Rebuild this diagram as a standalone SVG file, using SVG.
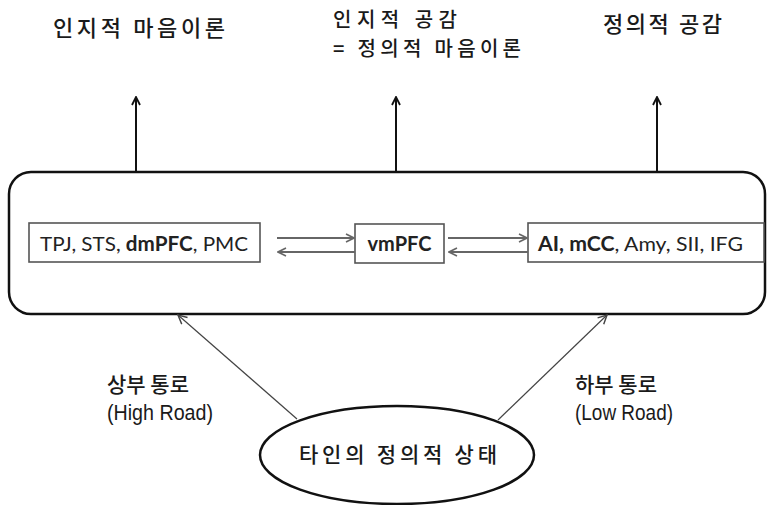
<svg xmlns="http://www.w3.org/2000/svg" width="769" height="505" viewBox="0 0 769 505">
<defs>
<style>
.kr{font-family:"Noto Sans CJK KR","Noto Sans",sans-serif;fill:#1a1a1a;font-weight:500;}
.top{font-size:22px;}
.mid{font-size:20px;}
.lab{font-size:21px;}
.lat{font-family:"Liberation Sans Narrow","Liberation Sans","Noto Sans CJK KR",sans-serif;font-size:22px;fill:#1a1a1a;}
.reg{font-family:Lato,"Open Sans",sans-serif;font-size:20px;fill:#222;}
.b{font-weight:bold;}
.inner{fill:#fff;stroke:#555;stroke-width:1.6;}
.up{stroke:#111;stroke-width:2;fill:none;}
.pair{stroke:#666;stroke-width:2;fill:none;}
.road{stroke:#444;stroke-width:1.2;fill:none;}
</style>
<marker id="ahUp" viewBox="0 0 10 10" refX="9" refY="5" markerWidth="10" markerHeight="10" markerUnits="userSpaceOnUse" orient="auto">
<path d="M1,1 L9,5 L1,9" fill="none" stroke="#111" stroke-width="1.8"/>
</marker>
<marker id="ahPair" viewBox="0 0 10 10" refX="9" refY="5" markerWidth="10" markerHeight="10" markerUnits="userSpaceOnUse" orient="auto">
<path d="M1,1 L9,5 L1,9" fill="none" stroke="#666" stroke-width="1.6"/>
</marker>
<marker id="ahRoad" viewBox="0 0 10 10" refX="9" refY="5" markerWidth="11" markerHeight="11" markerUnits="userSpaceOnUse" orient="auto">
<path d="M1,1 L9,5 L1,9" fill="none" stroke="#444" stroke-width="1.3"/>
</marker>
</defs>
<rect width="769" height="505" fill="#fff"/>

<g id="label-cognitive-tom">
<text class="kr top" x="53" y="36" textLength="172" lengthAdjust="spacing">인지적  마음이론</text>
</g>
<g id="label-cognitive-empathy">
<text class="kr mid" x="333" y="27" textLength="124" lengthAdjust="spacing">인지적 공감</text>
<text class="kr mid" x="333" y="56" textLength="188" lengthAdjust="spacing">= 정의적 마음이론</text>
</g>
<g id="label-affective-empathy">
<text class="kr top" x="603" y="32" textLength="119" lengthAdjust="spacing">정의적 공감</text>
</g>

<g id="system">
<rect x="9" y="172" width="756" height="142" rx="22" ry="22" fill="none" stroke="#111" stroke-width="2.5"/>
</g>

<g id="node-tpj">
<rect class="inner" x="29" y="223" width="231" height="39"/>
<text class="reg" x="40" y="251" textLength="208" lengthAdjust="spacingAndGlyphs">TPJ, STS, <tspan class="b">dmPFC</tspan>, PMC</text>
</g>
<g id="node-vmpfc">
<rect class="inner" x="355" y="224" width="89" height="39"/>
<text class="reg b" x="399.5" y="251" text-anchor="middle">vmPFC</text>
</g>
<g id="node-ai">
<rect class="inner" x="528" y="223" width="236" height="39"/>
<text class="reg" x="538" y="251" textLength="205" lengthAdjust="spacingAndGlyphs"><tspan class="b">AI, mCC</tspan>, Amy, SII, IFG</text>
</g>

<g id="node-other">
<ellipse cx="397" cy="455" rx="137" ry="49" fill="#fff" stroke="#111" stroke-width="2.5"/>
<text class="kr" x="299" y="462" font-size="21" textLength="198" lengthAdjust="spacing">타인의 정의적 상태</text>
</g>

<g id="road-labels">
<text class="kr lab" x="107" y="392">상부 통로</text>
<text class="lat" x="107" y="420" textLength="106" lengthAdjust="spacingAndGlyphs">(High Road)</text>
<text class="kr lab" x="575" y="392">하부 통로</text>
<text class="lat" x="575" y="420" textLength="98" lengthAdjust="spacingAndGlyphs">(Low Road)</text>
</g>

<g id="connectors">
<line class="up" x1="136" y1="172" x2="136" y2="97" marker-end="url(#ahUp)"/>
<line class="up" x1="396" y1="172" x2="396" y2="97" marker-end="url(#ahUp)"/>
<line class="up" x1="657" y1="172" x2="657" y2="97" marker-end="url(#ahUp)"/>
<line class="pair" x1="277" y1="238" x2="354" y2="238" marker-end="url(#ahPair)"/>
<line class="pair" x1="355" y1="252" x2="278" y2="252" marker-end="url(#ahPair)"/>
<line class="pair" x1="448" y1="238" x2="527" y2="238" marker-end="url(#ahPair)"/>
<line class="pair" x1="528" y1="252" x2="449" y2="252" marker-end="url(#ahPair)"/>
<line class="road" x1="297" y1="419" x2="178" y2="315" marker-end="url(#ahRoad)"/>
<line class="road" x1="498" y1="420" x2="607" y2="315" marker-end="url(#ahRoad)"/>
</g>
</svg>
